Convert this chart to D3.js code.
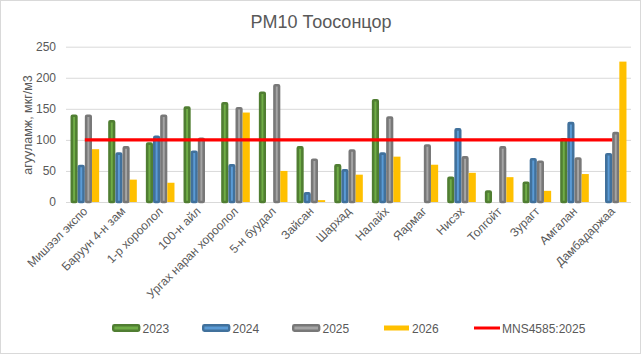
<!DOCTYPE html>
<html><head><meta charset="utf-8">
<script src="https://cdn.jsdelivr.net/npm/d3@7"></script>
<style>
html,body{margin:0;padding:0;background:#fff;}
svg{display:block;font-family:"Liberation Sans",Arial,sans-serif;}
</style></head>
<body><svg id="c" width="642" height="355"></svg>
<script>
const categories = ["Мишээл экспо","Баруун 4-н зам","1-р хороолол","100-н айл","Ургах наран хороолол","5-н буудал","Зайсан","Шархад","Налайх","Яармаг","Нисэх","Толгойт","Зурагт","Амгалан","Дамбадаржаа"];
const seriesNames = ["2023","2024","2025","2026"];
const v2023 = [141,132,96,154,161,178,90,61,166,null,41,19,33,103,null];
const v2024 = [60,80,107,83,61,null,16,53,80,null,119,null,71,129,79];
const v2025 = [141,90,141,104,153,190,70,85,138,93,74,90,67,72,113];
const v2026 = [85,36,31,null,144,50,3,44,73,60,47,40,18,45,226];
const standardName = "MNS4585:2025";
const standard = categories.map(() => 100);
const yTicks = [0,50,100,150,200,250];
const title = "PM10 Тоосонцор";
const yTitle = "агууламж, мкг/м3";

const seriesValues = [v2023, v2024, v2025, v2026];
const fills = ["#70AD47","#5B9BD5","#A5A5A5","#FFC000"];
const strokes = ["#507E32","#41719C","#787878",null];

const svg = d3.select("#c");
const W = 642, H = 355;
const x0 = d3.scaleBand().domain(categories).range([66, 631]).padding(0);
const bw = x0.bandwidth();
const x1 = d3.scaleBand().domain(seriesNames).range([bw*0.12, bw*0.88]).padding(0);
const y = d3.scaleLinear().domain([0,250]).range([202, 46.7]);

// outer border
svg.append("rect").attr("x",0.5).attr("y",0.5).attr("width",W-2).attr("height",H-2)
  .attr("fill","#fff").attr("stroke","#D9D9D9");

// gridlines
const yAxis = d3.axisLeft(y).tickValues(yTicks).tickSize(-(631-66)).tickPadding(10);
const gy = svg.append("g").attr("transform","translate(66,0)").call(yAxis);
gy.select(".domain").remove();
gy.selectAll(".tick line").attr("stroke","#D9D9D9").attr("stroke-width",1);
gy.selectAll(".tick text").attr("fill","#595959").style("font-size","12px")
  .style("font-family","'Liberation Sans',Arial,sans-serif");

// bars
const sw = 2.6;
seriesNames.forEach((s, si) => {
  const g = svg.append("g");
  const data = categories.map((c,i) => ({c, v: seriesValues[si][i]})).filter(d => d.v != null);
  const sel = g.selectAll("rect").data(data).enter().append("rect");
  if (strokes[si]) {
    sel.attr("x", d => x0(d.c) + x1(s) + sw/2)
      .attr("width", x1.bandwidth() - sw)
      .attr("y", d => y(d.v) + sw/2)
      .attr("height", d => Math.max(0, y(0) - y(d.v) - sw/2))
      .attr("fill", fills[si]).attr("stroke", strokes[si]).attr("stroke-width", sw)
      .attr("rx", 0.8);
  } else {
    sel.attr("x", d => x0(d.c) + x1(s))
      .attr("width", x1.bandwidth())
      .attr("y", d => y(d.v))
      .attr("height", d => y(0) - y(d.v))
      .attr("fill", fills[si]);
  }
});

// standard line
const line = d3.line().x((d,i) => x0(categories[i]) + bw/2).y(d => y(d));
svg.append("path").datum(standard).attr("d", line).attr("fill","none")
  .attr("stroke","#FF0000").attr("stroke-width",3.2);

// x labels
const xl = svg.append("g");
categories.forEach(c => {
  const cx = x0(c) + bw/2 + 3.5, cy = 212;
  xl.append("text").attr("transform",`translate(${cx},${cy}) rotate(-45)`)
    .attr("text-anchor","end").attr("fill","#595959").style("font-size","12px").text(c);
});

// title
svg.append("text").attr("x",321).attr("y",27.5).attr("text-anchor","middle")
  .attr("fill","#595959").style("font-size","18px").text(title);

// y title
svg.append("text").attr("transform","translate(32,125) rotate(-90)").attr("text-anchor","middle")
  .attr("fill","#595959").style("font-size","12.5px").text(yTitle);

// legend
const legendItems = [
  {name:"2023", x:112, type:"bar", si:0},
  {name:"2024", x:202, type:"bar", si:1},
  {name:"2025", x:292, type:"bar", si:2},
  {name:"2026", x:384, type:"bar", si:3},
  {name:standardName, x:474, type:"line"}
];
const ly = 328;
const lg = svg.append("g");
legendItems.forEach(it => {
  if (it.type === "line") {
    lg.append("line").attr("x1",it.x).attr("x2",it.x+26).attr("y1",ly).attr("y2",ly)
      .attr("stroke","#FF0000").attr("stroke-width",3);
    lg.append("text").attr("x",it.x+28).attr("y",ly+4.5).attr("fill","#595959").style("font-size","12px").text(it.name);
  } else if (strokes[it.si]) {
    lg.append("rect").attr("x",it.x+1.2).attr("y",ly-2.8).attr("width",26).attr("height",5.6)
      .attr("rx",1.2).attr("fill",fills[it.si]).attr("stroke",strokes[it.si]).attr("stroke-width",2.4);
    lg.append("text").attr("x",it.x+30.5).attr("y",ly+4.5).attr("fill","#595959").style("font-size","12px").text(it.name);
  } else {
    lg.append("rect").attr("x",it.x).attr("y",ly-2.5).attr("width",25).attr("height",5)
      .attr("fill",fills[it.si]);
    lg.append("text").attr("x",it.x+28).attr("y",ly+4.5).attr("fill","#595959").style("font-size","12px").text(it.name);
  }
});
</script></body></html>
